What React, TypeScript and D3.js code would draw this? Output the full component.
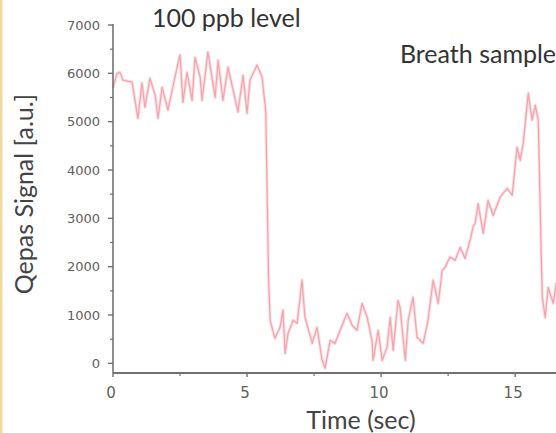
import React from "react";
import * as d3 from "d3";

const times = [0, 0.15, 0.26, 0.37, 0.71, 0.93, 1.08, 1.19, 1.38, 1.57, 1.68, 1.83, 2.05, 2.31, 2.5, 2.61, 2.76, 2.95, 3.06, 3.25, 3.32, 3.54, 3.69, 3.81, 3.92, 4.1, 4.29, 4.48, 4.66, 4.85, 5.0, 5.11, 5.37, 5.56, 5.7, 5.8, 5.86, 6.04, 6.23, 6.34, 6.42, 6.53, 6.72, 6.87, 7.05, 7.16, 7.43, 7.61, 7.8, 7.91, 8.1, 8.28, 8.47, 8.73, 8.92, 9.1, 9.29, 9.48, 9.66, 9.7, 9.89, 10.04, 10.22, 10.34, 10.45, 10.63, 10.71, 10.9, 11.01, 11.19, 11.34, 11.57, 11.75, 11.94, 12.13, 12.28, 12.39, 12.57, 12.76, 12.95, 13.13, 13.32, 13.43, 13.51, 13.62, 13.81, 13.99, 14.18, 14.44, 14.7, 14.89, 15.07, 15.19, 15.3, 15.49, 15.63, 15.75, 15.86, 16.01, 16.12, 16.23, 16.42, 16.53, 16.7];

const signal = [5700, 6000, 6020, 5860, 5820, 5070, 5800, 5300, 5900, 5550, 5070, 5710, 5240, 5920, 6380, 5400, 6020, 5440, 6330, 5920, 5440, 6440, 5920, 5500, 6270, 5440, 6130, 5650, 5200, 5960, 5170, 5860, 6170, 5920, 5200, 1800, 890, 520, 745, 1100, 207, 620, 890, 830, 1720, 950, 414, 745, 62, -100, 476, 414, 683, 1035, 787, 683, 1240, 950, 476, 62, 683, 62, 330, 950, 270, 1300, 1150, 62, 890, 1370, 540, 414, 890, 1720, 1240, 1925, 1990, 2200, 2130, 2400, 2170, 2550, 2820, 2900, 3300, 2690, 3370, 3060, 3440, 3620, 3480, 4470, 4200, 4550, 5590, 5030, 5340, 5030, 1370, 950, 1570, 1240, 1650, 1100];

const xTicks = [0, 5, 10, 15];
const xMinorTicks = [2.5, 7.5, 12.5, 17.5];
const yTicks = [0, 1000, 2000, 3000, 4000, 5000, 6000, 7000];
const yMinorTicks = [500, 1500, 2500, 3500, 4500, 5500, 6500];

const annotations = [
  { text: "100 ppb level", t: 1.45, v: 6950 },
  { text: "Breath sample", t: 10.7, v: 6220 },
];

const xTitle = "Time (sec)";
const yTitle = "Qepas Signal [a.u.]";

export default function App() {
  const W = 556;
  const H = 433;
  const x = d3.scaleLinear().domain([0, 18.5]).range([113, 609]);
  const y = d3.scaleLinear().domain([-200, 7000]).range([373, 25]);
  const pts = times.map((t, i) => [t, signal[i]] as [number, number]);
  const line = d3
    .line<[number, number]>()
    .x((d) => x(d[0]))
    .y((d) => y(d[1]));
  const axisColor = "#727272";
  const tickFont = "'DejaVu Sans', sans-serif";
  const titleFont = "Lato, 'Open Sans', sans-serif";
  const x0 = x(0);
  const yBase = y(-200);

  return (
    <svg
      width={W}
      height={H}
      style={{ position: "absolute", left: 0, top: 0, background: "#fff" }}
    >
      <rect x={0} y={0} width={W} height={H} fill="#fff" />
      <rect x={0} y={0} width={2.5} height={H} fill="#f2d9a2" />
      {/* data line */}
      <path
        d={line(pts) || ""}
        fill="none"
        stroke="#fbd3d7"
        strokeWidth={3.2}
        strokeLinejoin="round"
        opacity={0.7}
      />
      <path
        d={line(pts) || ""}
        fill="none"
        stroke="#f5a4ad"
        strokeWidth={1.3}
        strokeLinejoin="round"
      />
      {/* y axis */}
      <line x1={x0} x2={x0} y1={y(7000) - 1} y2={yBase} stroke={axisColor} strokeWidth={1.6} />
      {yTicks.map((v) => (
        <g key={"yt" + v}>
          <line x1={x0 - 5} x2={x0} y1={y(v)} y2={y(v)} stroke={axisColor} strokeWidth={1.4} />
          <text
            x={x0 - 13}
            y={y(v)}
            dy="0.35em"
            textAnchor="end"
            fontFamily={tickFont}
            fontSize={13}
            fill="#606060"
          >
            {v}
          </text>
        </g>
      ))}
      {yMinorTicks.map((v) => (
        <line key={"ym" + v} x1={x0 - 3} x2={x0} y1={y(v)} y2={y(v)} stroke={axisColor} strokeWidth={1.2} />
      ))}
      {/* x axis */}
      <line x1={x0} x2={W + 10} y1={yBase} y2={yBase} stroke={axisColor} strokeWidth={1.8} />
      {xTicks.map((t) => (
        <g key={"xt" + t}>
          <line x1={x(t)} x2={x(t)} y1={yBase} y2={yBase + 4} stroke={axisColor} strokeWidth={1.4} />
          <text
            x={x(t) - 2}
            y={yBase + 25}
            textAnchor="middle"
            fontFamily={tickFont}
            fontSize={15}
            fill="#606060"
          >
            {t}
          </text>
        </g>
      ))}
      {xMinorTicks.map((t) => (
        <line key={"xm" + t} x1={x(t)} x2={x(t)} y1={yBase} y2={yBase + 3} stroke={axisColor} strokeWidth={1.2} />
      ))}
      {/* titles */}
      <text
        x={(x.range()[0] + x.range()[1]) / 2}
        y={429}
        textAnchor="middle"
        fontFamily={titleFont}
        fontSize={25}
        fill="#444"
      >
        {xTitle}
      </text>
      <text
        transform={`translate(33, 194) rotate(-90)`}
        textAnchor="middle"
        fontFamily={titleFont}
        fontSize={25}
        fill="#444"
      >
        {yTitle}
      </text>
      {annotations.map((a) => (
        <text
          key={a.text}
          x={x(a.t)}
          y={y(a.v)}
          fontFamily={titleFont}
          fontSize={25}
          fill="#333"
        >
          {a.text}
        </text>
      ))}
    </svg>
  );
}
